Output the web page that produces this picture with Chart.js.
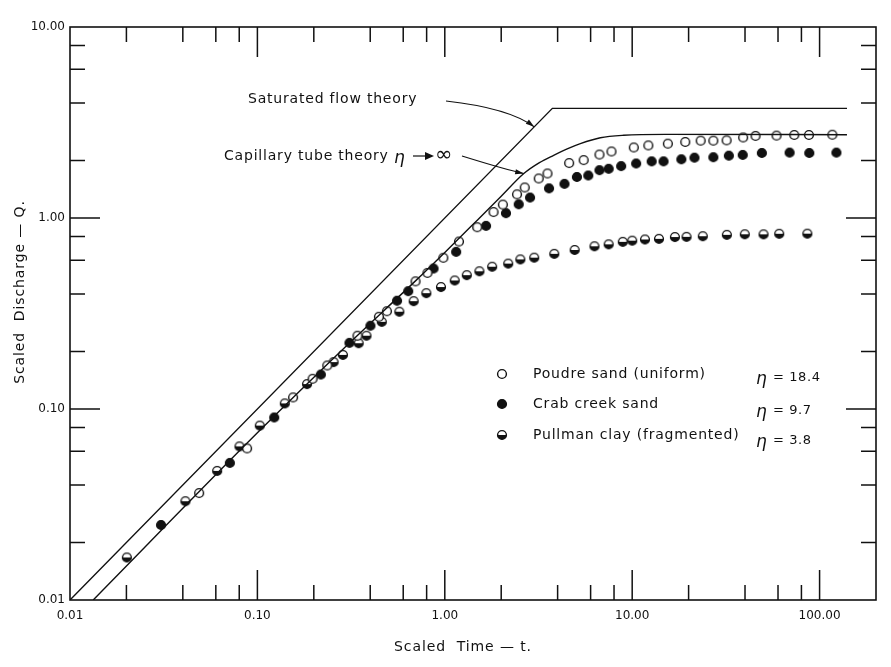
<!DOCTYPE html>
<html>
<head>
<meta charset="utf-8">
<script src="https://cdn.jsdelivr.net/npm/chart.js@4/dist/chart.umd.min.js"></script>
<style>
  html, body { margin: 0; padding: 0; background: #fff; }
  canvas { display: block; }
</style>
</head>
<body>
<canvas id="chart" width="891" height="667"></canvas>
<script>
// theory curves (scaled time t, scaled discharge Q)
const saturatedT = [0.01, 3.75, 140];
const saturatedQ = [0.01, 3.75, 3.75];
const capillaryT = [0.0133, 0.1, 0.3, 0.7, 1.0, 1.5, 2.0, 2.64, 3.2, 3.81, 4.5, 5.29, 6.76, 9, 15, 140];
const capillaryQ = [0.01, 0.075, 0.215, 0.47, 0.66, 0.98, 1.3, 1.71, 1.95, 2.13, 2.3, 2.45, 2.63, 2.71, 2.74, 2.73];

// Poudre sand (uniform), eta = 18.4
const poudreT = [0.0489, 0.0881, 0.155, 0.197, 0.236, 0.342, 0.445, 0.491, 0.698, 0.808, 0.982, 1.19, 1.49, 1.82, 2.04, 2.43, 2.67, 3.17, 3.53, 4.61, 5.51, 6.69, 7.75, 10.2, 12.2, 15.5, 19.2, 23.2, 27.1, 31.9, 39.1, 45.5, 58.9, 73.3, 87.7, 117];
const poudreQ = [0.0363, 0.0622, 0.115, 0.144, 0.169, 0.242, 0.304, 0.325, 0.466, 0.516, 0.619, 0.753, 0.895, 1.075, 1.175, 1.33, 1.445, 1.61, 1.71, 1.94, 2.01, 2.15, 2.23, 2.34, 2.40, 2.45, 2.50, 2.54, 2.54, 2.55, 2.64, 2.69, 2.70, 2.72, 2.72, 2.73];

// Crab creek sand, eta = 9.7
const crabT = [0.0306, 0.0713, 0.123, 0.218, 0.310, 0.401, 0.556, 0.638, 0.871, 1.15, 1.66, 2.12, 2.48, 2.85, 3.60, 4.35, 5.07, 5.83, 6.69, 7.49, 8.73, 10.5, 12.7, 14.7, 18.3, 21.5, 27.1, 32.8, 38.9, 49.2, 69.2, 88.1, 123];
const crabQ = [0.0247, 0.0522, 0.0903, 0.1515, 0.222, 0.273, 0.369, 0.414, 0.544, 0.665, 0.910, 1.06, 1.18, 1.28, 1.43, 1.51, 1.64, 1.67, 1.78, 1.81, 1.87, 1.93, 1.98, 1.98, 2.03, 2.07, 2.08, 2.12, 2.14, 2.19, 2.20, 2.19, 2.20];

// Pullman clay (fragmented), eta = 3.8
const pullmanT = [0.0201, 0.0413, 0.061, 0.0802, 0.103, 0.140, 0.184, 0.255, 0.286, 0.347, 0.382, 0.461, 0.572, 0.682, 0.797, 0.954, 1.13, 1.31, 1.53, 1.79, 2.18, 2.53, 3.0, 3.84, 4.93, 6.29, 7.49, 8.91, 10.0, 11.7, 13.9, 16.9, 19.5, 23.8, 32.0, 39.9, 50.2, 60.9, 86.0];
const pullmanQ = [0.0167, 0.0329, 0.0474, 0.0637, 0.0819, 0.107, 0.135, 0.176, 0.192, 0.221, 0.242, 0.286, 0.323, 0.367, 0.404, 0.435, 0.471, 0.502, 0.526, 0.556, 0.577, 0.607, 0.62, 0.649, 0.680, 0.711, 0.728, 0.750, 0.761, 0.772, 0.778, 0.795, 0.797, 0.803, 0.816, 0.822, 0.821, 0.827, 0.828];

const xTickLabels = ["0.01", "0.10", "1.00", "10.00", "100.00"];
const yTickLabels = ["0.01", "0.10", "1.00", "10.00"];

const INK = "#111";
const FONT = "'DejaVu Sans', sans-serif";

function pts(xs, ys) { return xs.map((x, i) => ({ x: x, y: ys[i] })); }

function drawMarker(g, cx, cy, r, kind) {
  g.save();
  g.lineWidth = 1.4;
  g.strokeStyle = INK;
  g.beginPath(); g.arc(cx, cy, r, 0, Math.PI * 2);
  g.fillStyle = kind === "filled" ? INK : "#fff";
  g.fill();
  if (kind === "half") {
    g.beginPath(); g.arc(cx, cy, r, 0, Math.PI); g.closePath();
    g.fillStyle = INK; g.fill();
  }
  g.beginPath(); g.arc(cx, cy, r, 0, Math.PI * 2); g.stroke();
  g.restore();
}

function markerImage(kind) {
  const c = document.createElement("canvas");
  c.width = 12; c.height = 12;
  drawMarker(c.getContext("2d"), 6, 6, 4.4, kind);
  return c;
}

function isDecade(v) {
  const l = Math.log10(v);
  return Math.abs(l - Math.round(l)) < 1e-6;
}

function decadeLabel(v, labels, start) {
  if (!isDecade(v)) return "";
  return labels[Math.round(Math.log10(v)) - start] || "";
}

function arrow(ctx, x0, y0, cx, cy, x1, y1) {
  ctx.beginPath(); ctx.moveTo(x0, y0); ctx.quadraticCurveTo(cx, cy, x1, y1); ctx.stroke();
  const a = Math.atan2(y1 - cy, x1 - cx);
  ctx.beginPath();
  ctx.moveTo(x1, y1);
  ctx.lineTo(x1 - 9 * Math.cos(a - 0.3), y1 - 9 * Math.sin(a - 0.3));
  ctx.lineTo(x1 - 9 * Math.cos(a + 0.3), y1 - 9 * Math.sin(a + 0.3));
  ctx.closePath(); ctx.fill();
}

function label(ctx, text, x, y, size, spacing) {
  ctx.font = size + "px " + FONT;
  ctx.letterSpacing = spacing + "px";
  ctx.fillText(text, x, y);
  ctx.letterSpacing = "0px";
}

const framePlugin = {
  id: "frame",
  afterDraw(chart) {
    const { ctx, chartArea: a, scales: { x, y } } = chart;
    ctx.save();
    ctx.strokeStyle = INK; ctx.fillStyle = INK; ctx.lineWidth = 1.6;
    ctx.strokeRect(a.left, a.top, a.right - a.left, a.bottom - a.top);

    // inward ticks at 2,4,6,8 and longer ones at each decade
    ctx.lineWidth = 1.5;
    ctx.beginPath();
    for (let d = -2; d <= 2; d++) {
      for (const m of [1, 2, 4, 6, 8]) {
        const v = m * Math.pow(10, d);
        const len = m === 1 ? 30 : 15;
        if (v > x.min * 1.0001 && v < x.max) {
          const px = x.getPixelForValue(v);
          ctx.moveTo(px, a.bottom); ctx.lineTo(px, a.bottom - len);
          ctx.moveTo(px, a.top); ctx.lineTo(px, a.top + len);
        }
        if (v > y.min * 1.0001 && v < y.max * 0.9999) {
          const py = y.getPixelForValue(v);
          ctx.moveTo(a.left, py); ctx.lineTo(a.left + len, py);
          ctx.moveTo(a.right, py); ctx.lineTo(a.right - len, py);
        }
      }
    }
    ctx.stroke();

    // annotations
    ctx.textBaseline = "middle";
    ctx.textAlign = "left";
    label(ctx, "Saturated flow theory", 248, 99, 14, 0.8);
    ctx.lineWidth = 1.2;
    const s = { x: x.getPixelForValue(3.0), y: y.getPixelForValue(3.0) };
    arrow(ctx, 446, 101, 509, 108, s.x, s.y);

    label(ctx, "Capillary tube theory", 224, 156, 14, 0.8);
    ctx.font = "italic 17px " + FONT;
    ctx.fillText("η", 394, 159);
    ctx.beginPath(); ctx.moveTo(413, 156); ctx.lineTo(428, 156); ctx.stroke();
    ctx.beginPath(); ctx.moveTo(434, 156); ctx.lineTo(425, 152); ctx.lineTo(425, 160); ctx.closePath(); ctx.fill();
    ctx.font = "21px " + FONT;
    ctx.fillText("∞", 435, 156);
    const c = { x: x.getPixelForValue(2.64), y: y.getPixelForValue(1.71) };
    arrow(ctx, 462, 156, 507, 170, c.x, c.y);

    // legend
    const rows = [
      ["open", "Poudre sand (uniform)", "= 18.4", 374, 378],
      ["filled", "Crab creek sand", "= 9.7", 404, 411],
      ["half", "Pullman clay (fragmented)", "= 3.8", 435, 441]
    ];
    for (const [kind, name, eta, ty, ey] of rows) {
      drawMarker(ctx, 502, ty, 4.4, kind);
      label(ctx, name, 533, ty, 14, 0.8);
      ctx.font = "italic 17px " + FONT;
      ctx.fillText("η", 756, ey + 2);
      label(ctx, eta, 773, ey, 13, 0.6);
    }

    // axis titles
    ctx.textAlign = "center";
    label(ctx, "Scaled  Time — t.", 463, 647, 14, 0.9);
    ctx.translate(20, 292);
    ctx.rotate(-Math.PI / 2);
    label(ctx, "Scaled  Discharge — Q.", 0, 0, 14, 0.9);
    ctx.restore();
  }
};

new Chart(document.getElementById("chart").getContext("2d"), {
  type: "scatter",
  data: {
    datasets: [
      { label: "Saturated flow theory", data: pts(saturatedT, saturatedQ), showLine: true,
        borderColor: INK, borderWidth: 1.4, pointRadius: 0, fill: false },
      { label: "Capillary tube theory", data: pts(capillaryT, capillaryQ), showLine: true,
        cubicInterpolationMode: "monotone", borderColor: INK, borderWidth: 1.4, pointRadius: 0, fill: false },
      { label: "Poudre sand (uniform)", data: pts(poudreT, poudreQ), pointStyle: markerImage("open") },
      { label: "Crab creek sand", data: pts(crabT, crabQ), pointStyle: markerImage("filled") },
      { label: "Pullman clay (fragmented)", data: pts(pullmanT, pullmanQ), pointStyle: markerImage("half") }
    ]
  },
  options: {
    responsive: false,
    animation: false,
    devicePixelRatio: 1,
    layout: { padding: { top: 27, right: 15, left: 0, bottom: 0 } },
    plugins: { legend: { display: false }, tooltip: { enabled: false } },
    scales: {
      x: {
        type: "logarithmic", min: 0.01, max: 200,
        grid: { display: false, drawTicks: false }, border: { display: false },
        ticks: { autoSkip: false, maxRotation: 0, padding: 9, color: INK,
          font: { family: FONT, size: 12 },
          callback: (v) => decadeLabel(v, xTickLabels, -2) },
        afterFit(s) { s.height = 67; }
      },
      y: {
        type: "logarithmic", min: 0.01, max: 10,
        grid: { display: false, drawTicks: false }, border: { display: false },
        ticks: { autoSkip: false, padding: 5, color: INK,
          font: { family: FONT, size: 12 },
          callback: (v) => decadeLabel(v, yTickLabels, -2) },
        afterFit(s) { s.width = 70; }
      }
    }
  },
  plugins: [framePlugin]
});
</script>
</body>
</html>
